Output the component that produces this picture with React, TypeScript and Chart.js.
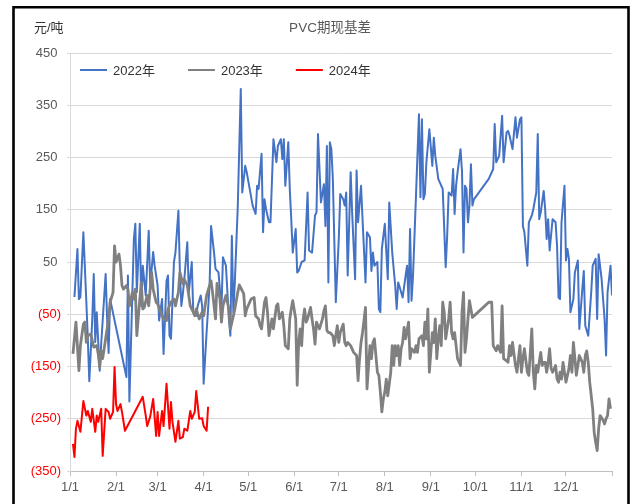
import React, { useEffect, useRef } from 'react';
import { Chart, registerables } from 'chart.js';

Chart.register(...registerables);

const FONT = "'Liberation Sans', Arial, 'Noto Sans CJK SC', sans-serif";

const chartTitle = 'PVC期现基差';
const unitLabel = '元/吨';
const seriesNames = ['2022年', '2023年', '2024年'];
const seriesColors = ['#4472C4', '#808080', '#FF0000'];
const seriesWidths = [2, 2.8, 2];

// x axis: day of year (0 = 1/1)
const monthTickDays = [0, 31, 59, 90, 120, 151, 181, 212, 243, 273, 304, 334, 365];
const monthTickLabels = ['1/1', '2/1', '3/1', '4/1', '5/1', '6/1', '7/1', '8/1', '9/1', '10/1', '11/1', '12/1', ''];
const yMin = -350;
const yMax = 450;
const yStep = 100;

// 2022
const days2022 = [
  3, 5, 6, 7, 9, 11, 12, 13, 15, 16,
  17, 18, 20, 21, 24, 25, 26, 27, 38, 39,
  40, 43, 44, 45, 47, 48, 49, 51, 53, 54,
  56, 57, 59, 60, 62, 63, 65, 66, 67, 68,
  70, 71, 73, 74, 75, 76, 77, 79, 80, 82,
  83, 85, 86, 88, 89, 90, 92, 94, 95, 97,
  98, 100, 102, 103, 105, 107, 108, 109, 110, 111,
  113, 115, 116, 118, 119, 121, 123, 125, 126, 127,
  129, 130, 131, 132, 134, 135, 137, 139, 140, 142,
  143, 144, 145, 147, 148, 149, 150, 152, 153, 154,
  156, 158, 160, 161, 163, 165, 166, 167, 169, 171,
  172, 173, 174, 175, 176, 177, 179, 181, 182, 184,
  185, 186, 187, 189, 190, 192, 193, 194, 196, 197,
  199, 200, 202, 203, 204, 205, 207, 208, 209, 210,
  212, 214, 215, 217, 219, 220, 221, 222, 224, 226,
  227, 228, 229, 230, 231, 233, 235, 236, 237, 238,
  239, 240, 242, 244, 245, 246, 248, 250, 251, 253,
  254, 255, 257, 258, 259, 260, 261, 263, 264, 265,
  266, 267, 268, 269, 270, 271, 272, 282, 285, 286,
  287, 289, 291, 292, 294, 295, 296, 298, 300, 301,
  303, 304, 305, 306, 308, 309, 311, 312, 314, 315,
  316, 317, 319, 320, 321, 322, 323, 325, 327, 328,
  329, 330, 331, 333, 334, 335, 336, 337, 339, 340,
  342, 343, 345, 346, 347, 349, 351, 352, 354, 355,
  356, 358, 360, 361, 362, 364, 365,
];
const values2022 = [
  -17, 75, -21, -17, 107, -26, -97, -178, -59, 27,
  -103, -46, -158, -107, 27, -59, -124, -21, -170, 24,
  -217, 94, 123, -8, 123, -34, 43, -14, 110, 5,
  69, 43, 5, -62, -21, -126, 14, 24, -91, -97,
  50, 68, 148, 31, -34, -11, 17, 88, -8, 50,
  -46, -53, -34, -14, -34, -183, -84, 5, 119, 68,
  37, 30, -40, 59, 43, -59, -91, 100, -46, 11,
  158, 381, 183, 234, 222, 190, 158, 142, 196, 190,
  257, 107, 170, 151, 126, 126, 285, 241, 272, 285,
  247, 285, 196, 279, 190, 132, 68, 113, 30, 33,
  50, 53, 183, 72, 68, 139, 145, 295, 164, 199,
  119, 272, 11, 279, 266, 209, -27, 94, 180, 170,
  158, 183, 24, 222, 145, 17, 225, 126, 196, 132,
  11, 107, 97, 33, 68, 43, 50, -40, -46, 75,
  123, 17, 164, 68, 5, -40, 11, 2, -18, 24,
  43, -27, 113, -24, 24, 177, 333, 174, 323, 170,
  180, 241, 304, 234, 288, 253, 209, 196, 190, 40,
  100, 183, 177, 228, 142, 196, 222, 266, 222, 68,
  196, 190, 126, 158, 237, 158, 170, 209, 228, 314,
  241, 253, 330, 241, 298, 301, 292, 266, 327, 288,
  323, 327, 119, 107, 43, 126, 139, 151, 183, 295,
  132, 145, 186, 151, 94, 132, 72, 132, 126, 81,
  -18, -21, 126, 196, 53, 75, 56, -46, -21, 30,
  53, -78, -2, 33, -72, -91, -8, 43, 56, -59,
  65, 17, -59, -129, -8, 43, -14,
];

// 2023
const days2023 = [
  2, 4, 6, 7, 9, 10, 11, 12, 14, 16,
  18, 19, 20, 21, 22, 24, 26, 27, 29, 30,
  31, 33, 34, 35, 36, 38, 39, 40, 42, 43,
  44, 45, 47, 48, 49, 50, 52, 53, 55, 56,
  58, 59, 61, 63, 65, 66, 68, 70, 71, 73,
  74, 76, 77, 79, 81, 83, 84, 85, 87, 89,
  90, 92, 94, 95, 96, 98, 99, 101, 102, 103,
  105, 107, 108, 110, 111, 113, 114, 116, 117, 118,
  119, 121, 122, 124, 125, 127, 128, 129, 131, 132,
  133, 134, 136, 137, 139, 140, 141, 143, 144, 145,
  147, 148, 149, 150, 152, 153, 154, 155, 156, 157,
  158, 159, 160, 162, 163, 164, 165, 166, 167, 168,
  170, 171, 172, 173, 174, 175, 177, 178, 180, 181,
  182, 184, 185, 186, 187, 189, 191, 193, 194, 195,
  196, 197, 199, 200, 202, 203, 204, 205, 207, 208,
  209, 210, 211, 212, 213, 214, 216, 217, 218, 219,
  220, 221, 222, 223, 224, 225, 226, 228, 229, 230,
  232, 233, 234, 235, 237, 238, 239, 240, 241, 242,
  244, 245, 246, 247, 248, 249, 250, 251, 252, 253,
  255, 256, 257, 258, 259, 260, 261, 263, 264, 265,
  266, 267, 268, 269, 270, 271, 282, 284, 285, 287,
  288, 290, 291, 292, 294, 295, 296, 297, 298, 300,
  301, 302, 303, 304, 305, 306, 308, 309, 311, 312,
  313, 314, 315, 317, 318, 319, 320, 321, 322, 323,
  324, 325, 327, 328, 329, 330, 331, 332, 333, 334,
  336, 337, 338, 339, 340, 341, 342, 343, 345, 346,
  347, 348, 349, 350, 352, 353, 354, 355, 356, 357,
  359, 360, 361, 362, 363, 364,
];
const values2023 = [
  -126, -65, -158, -110, -69, -65, -104, -91, -88, -113,
  -110, -126, -151, -120, -135, -97, -59, -27, -8, 81,
  50, 65, 43, 5, -2, 5, -2, -34, -8, -21,
  -2, -91, -21, 11, -40, -37, -14, -34, 30, -2,
  -27, -30, -46, -59, -62, -40, -27, -21, -34, -8,
  30, 8, 17, 5, -34, -46, -53, -40, -59, -46,
  -53, -14, 5, 14, -8, -59, 9, -21, -65, -34,
  -14, -40, -78, -53, -40, -8, 6, -5, -11, -53,
  -40, -27, -21, -18, -53, -59, -72, -78, -27, -18,
  -46, -91, -59, -78, -34, -30, -59, -46, -72, -110,
  -116, -59, -40, -24, -59, -186, -104, -78, -110, -59,
  -40, -65, -59, -37, -59, -78, -107, -65, -72, -78,
  -59, -43, -34, -81, -85, -85, -91, -110, -72, -104,
  -85, -69, -104, -110, -104, -110, -123, -129, -177, -135,
  -104, -85, -37, -193, -110, -135, -104, -97, -161, -167,
  -199, -237, -212, -199, -174, -206, -161, -110, -148, -110,
  -129, -110, -148, -116, -104, -75, -97, -65, -135, -116,
  -123, -110, -123, -97, -91, -110, -65, -97, -40, -161,
  -85, -104, -59, -135, -97, -72, -110, -27, -46, -97,
  -59, -27, -85, -97, -85, -110, -135, -148, -46, -8,
  -123, -97, -59, -24, -40, -56, -27, -27, -110, -120,
  -110, -123, -34, -135, -139, -142, -110, -129, -104, -148,
  -161, -135, -110, -161, -135, -116, -161, -167, -78, -161,
  -193, -148, -161, -123, -148, -142, -142, -161, -142, -116,
  -154, -161, -148, -174, -180, -161, -174, -142, -161, -180,
  -154, -129, -161, -104, -135, -167, -148, -129, -142, -161,
  -129, -120, -142, -180, -231, -276, -295, -311, -269, -244,
  -253, -260, -250, -244, -212, -231,
];

// 2024
const days2024 = [
  2, 3, 4, 5, 7, 9, 11, 12, 14, 15,
  17, 18, 19, 21, 22, 24, 26, 27, 29, 30,
  31, 32, 34, 35, 37, 49, 51, 52, 54, 56,
  58, 59, 60, 62, 63, 65, 67, 68, 69, 71,
  73, 74, 76, 77, 79, 81, 82, 84, 85, 87,
  89, 90, 92, 93,
];
const values2024 = [
  -298, -323, -269, -254, -275, -216, -244, -235, -256, -231,
  -275, -244, -256, -231, -321, -231, -237, -250, -237, -151,
  -222, -235, -222, -237, -273, -208, -244, -264, -246, -212,
  -283, -237, -283, -235, -264, -183, -269, -218, -256, -294,
  -254, -288, -285, -269, -273, -235, -250, -237, -197, -250,
  -249, -264, -273, -227,
];

const seriesDays = [days2022, days2023, days2024];
const seriesValues = [values2022, values2023, values2024];
const drawOrder = [2, 1, 0];

const decorPlugin = {
  id: 'decor',
  beforeDraw(chart: any) {
    const { ctx, width, height } = chart;
    ctx.save();
    ctx.fillStyle = '#ffffff';
    ctx.fillRect(0, 0, width, height);
    ctx.restore();
  },
  afterDraw(chart: any) {
    const ctx = chart.ctx as CanvasRenderingContext2D;
    ctx.save();
    ctx.textBaseline = 'middle';
    ctx.textAlign = 'center';
    ctx.fillStyle = '#595959';
    ctx.font = `13.5px ${FONT}`;
    ctx.fillText(chartTitle, 330, 28);

    ctx.textAlign = 'left';
    ctx.fillStyle = '#333333';
    ctx.font = `13px ${FONT}`;
    ctx.fillText(unitLabel, 34, 28);

    // legend
    let x = 80;
    const y = 70;
    chart.data.datasets.forEach((ds: any) => {
      ctx.strokeStyle = ds.borderColor;
      ctx.lineWidth = 2;
      ctx.beginPath();
      ctx.moveTo(x, y);
      ctx.lineTo(x + 27, y);
      ctx.stroke();
      x += 33;
      ctx.fillStyle = '#333333';
      ctx.fillText(ds.label, x, y + 1);
      x += ctx.measureText(ds.label).width + 33;
    });

    // frame
    ctx.strokeStyle = '#000000';
    ctx.lineWidth = 2.6;
    ctx.beginPath();
    ctx.moveTo(13.5, chart.height);
    ctx.lineTo(13.5, 7.2);
    ctx.lineTo(628.5, 7.2);
    ctx.lineTo(628.5, chart.height);
    ctx.stroke();
    ctx.restore();
  },
};

export default function App() {
  const canvasRef = useRef<HTMLCanvasElement | null>(null);

  useEffect(() => {
    const canvas = canvasRef.current;
    if (!canvas) return;
    const datasets = seriesNames.map((name, i) => ({
      label: name,
      data: seriesDays[i].map((d, j) => ({ x: d, y: seriesValues[i][j] })),
      borderColor: seriesColors[i],
      backgroundColor: seriesColors[i],
      borderWidth: seriesWidths[i],
      pointRadius: 0,
      tension: 0,
      fill: false,
      order: drawOrder[i],
      borderJoinStyle: 'round' as const,
    }));

    const chart = new Chart(canvas, {
      type: 'line',
      data: { datasets },
      plugins: [decorPlugin],
      options: {
        animation: false,
        responsive: false,
        maintainAspectRatio: false,
        layout: { padding: { left: 0, right: 20, top: 53, bottom: 0 } },
        plugins: {
          legend: { display: false },
          title: { display: false },
          tooltip: { enabled: false },
        },
        scales: {
          x: {
            type: 'linear',
            min: monthTickDays[0],
            max: monthTickDays[monthTickDays.length - 1],
            afterBuildTicks: (scale: any) => {
              scale.ticks = monthTickDays.map((v) => ({ value: v }));
            },
            afterFit: (scale: any) => {
              scale.height = 33;
            },
            ticks: {
              autoSkip: false,
              maxRotation: 0,
              minRotation: 0,
              padding: 4,
              color: '#595959',
              font: { family: FONT, size: 13 },
              callback: (_v: any, i: number) => monthTickLabels[i],
            },
            grid: {
              drawOnChartArea: false,
              drawTicks: true,
              tickLength: 5,
              color: '#BFBFBF',
            },
            border: { display: true, color: '#BFBFBF', width: 1 },
          },
          y: {
            type: 'linear',
            min: yMin,
            max: yMax,
            afterFit: (scale: any) => {
              scale.width = 70;
            },
            ticks: {
              stepSize: yStep,
              padding: 6,
              font: { family: FONT, size: 13 },
              color: (ctx: any) => (ctx.tick && ctx.tick.value < 0 ? '#FF0000' : '#595959'),
              callback: (v: any) => (Number(v) < 0 ? `(${Math.abs(Number(v))})` : `${v} `),
            },
            grid: {
              color: '#D9D9D9',
              drawTicks: true,
              tickLength: 3,
            },
            border: { display: true, color: '#D9D9D9', width: 1 },
          },
        },
      } as any,
    });
    return () => chart.destroy();
  }, []);

  return (
    <div style={{ position: 'absolute', left: 0, top: 0, width: 632, height: 504, background: '#fff' }}>
      <canvas ref={canvasRef} width={632} height={504} style={{ display: 'block', width: 632, height: 504 }} />
    </div>
  );
}
